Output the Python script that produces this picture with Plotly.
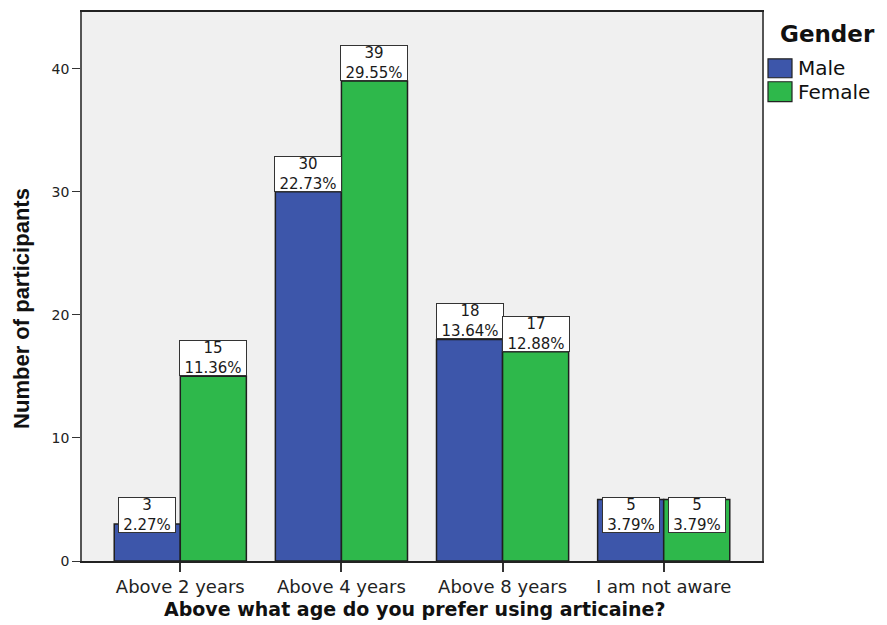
import plotly.graph_objects as go

categories = ["Above 2 years", "Above 4 years", "Above 8 years", "I am not aware"]
male_counts = [3, 30, 18, 5]
female_counts = [15, 39, 17, 5]
male_pct = ["2.27%", "22.73%", "13.64%", "3.79%"]
female_pct = ["11.36%", "29.55%", "12.88%", "3.79%"]
y_ticks = [0, 10, 20, 30, 40]

MALE_COLOR = "#3D56AA"
FEMALE_COLOR = "#2EB84B"
EDGE = "#1f1f1f"
FONT = "DejaVu Sans, Verdana, sans-serif"

W, H = 887, 625
L, R, T, B = 82, 125, 10, 64
PW, PH = W - L - R, H - T - B


def px(x):
    return (x - L) / PW


def py(y):
    return (H - B - y) / PH


fig = go.Figure()
fig.add_trace(go.Bar(name="Male", x=categories, y=male_counts,
                     marker=dict(color=MALE_COLOR, line=dict(color=EDGE, width=1.5)),
                     showlegend=False))
fig.add_trace(go.Bar(name="Female", x=categories, y=female_counts,
                     marker=dict(color=FEMALE_COLOR, line=dict(color=EDGE, width=1.5)),
                     showlegend=False))

annotations = []
for series, pcts, shift in ((male_counts, male_pct, -33), (female_counts, female_pct, 33)):
    for cat, v, p in zip(categories, series, pcts):
        small = v <= 5
        annotations.append(dict(
            x=cat, y=0 if small else v, xref="x", yref="y",
            xshift=shift, yshift=28 if small else 0,
            yanchor="bottom", xanchor="center",
            text=f"{v}<br>{p}", showarrow=False,
            font=dict(family=FONT, size=15, color="#1a1a1a"),
            bgcolor="white", bordercolor="#333333", borderwidth=1,
            borderpad=0, width=10 * len(p) + 6, height=34,
        ))

# axis titles
annotations.append(dict(
    x=px(415), y=py(609), xref="paper", yref="paper",
    text="<b>Above what age do you prefer using articaine?</b>", showarrow=False,
    xanchor="center", yanchor="middle",
    font=dict(family=FONT, size=19, color="#111111")))
annotations.append(dict(
    x=px(22), y=py(308), xref="paper", yref="paper",
    text="<b>Number of participants</b>", showarrow=False, textangle=-90,
    xanchor="center", yanchor="middle",
    font=dict(family="Liberation Sans Narrow, Liberation Sans, Arial", size=22, color="#111111")))

# manual legend
annotations.append(dict(
    x=px(827), y=py(32), xref="paper", yref="paper", text="<b>Gender</b>",
    showarrow=False, xanchor="center", yanchor="middle",
    font=dict(family=FONT, size=23, color="#111111")))
shapes = []
for name, color, top, bot in (("Male", MALE_COLOR, 57, 76), ("Female", FEMALE_COLOR, 80, 100)):
    shapes.append(dict(type="rect", xref="paper", yref="paper",
                       x0=px(768), x1=px(792), y0=py(bot), y1=py(top),
                       fillcolor=color, line=dict(color="#222222", width=1.2)))
    annotations.append(dict(
        x=px(796), y=py((top + bot) / 2), xref="paper", yref="paper", text=name,
        showarrow=False, xanchor="left", yanchor="middle",
        font=dict(family=FONT, size=20, color="#111111")))

fig.update_layout(
    width=W, height=H,
    margin=dict(l=L, r=R, t=T, b=B),
    paper_bgcolor="white", plot_bgcolor="#F0F0F0",
    barmode="group", bargap=0.18, bargroupgap=0,
    annotations=annotations, shapes=shapes,
    showlegend=False,
    xaxis=dict(type="category", range=[-0.61, 3.61],
               showline=True, linecolor="#222222", linewidth=1.5, mirror=True,
               ticks="outside", ticklen=9, tickcolor="#333333", tickwidth=1.5,
               tickfont=dict(family=FONT, size=18, color="#222222"),
               showgrid=False, zeroline=False),
    yaxis=dict(range=[0, 44.6], tickvals=y_ticks,
               showline=True, linecolor="#555555", linewidth=1.5, mirror=True,
               ticks="outside", ticklen=8, tickcolor="#333333", tickwidth=1.2,
               tickfont=dict(family=FONT, size=14, color="#222222"),
               showgrid=False, zeroline=False),
)

fig.write_html(
    "out.html",
    config={"displayModeBar": False},
    post_script="document.body.style.margin='0px';document.body.style.overflow='hidden';",
)
